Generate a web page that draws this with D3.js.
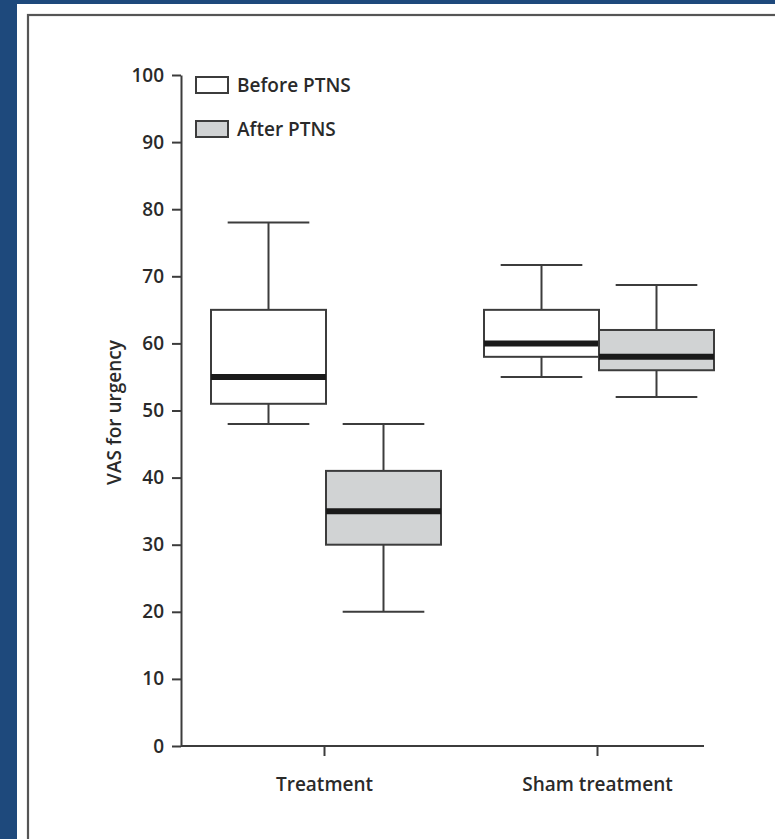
<!DOCTYPE html>
<html>
<head>
<meta charset="utf-8">
<script src="https://cdn.jsdelivr.net/npm/d3@7"></script>
<style>
  html, body { margin: 0; padding: 0; background: #1e497c; }
  svg { display: block; }
</style>
</head>
<body>
<svg id="chart" width="775" height="839"></svg>
<script>
// box order: Treatment/Before, Treatment/After, Sham/Before, Sham/After
const categories = ["Treatment", "Sham treatment"];
const series = ["Before PTNS", "After PTNS"];
const boxCategory = ["Treatment", "Treatment", "Sham treatment", "Sham treatment"];
const boxSeries = ["Before PTNS", "After PTNS", "Before PTNS", "After PTNS"];
const lowWhisker = [48, 20, 55, 52];
const q1 = [51, 30, 58, 56];
const median = [55, 35, 60, 58];
const q3 = [65, 41, 65, 62];
const highWhisker = [78, 48, 71.7, 68.7];
const yTicks = [0, 10, 20, 30, 40, 50, 60, 70, 80, 90, 100];

const font = "'Open Sans', sans-serif";
const ink = "#3c3c3c";
const textInk = "#2a2a2a";
const fills = { "Before PTNS": "#ffffff", "After PTNS": "#d1d3d4" };

const svg = d3.select("#chart");

// white panel with grey frame
svg.append("rect").attr("x", 17).attr("y", 4).attr("width", 775).attr("height", 839).attr("fill", "#fff");
svg.append("rect").attr("x", 28).attr("y", 15).attr("width", 780).attr("height", 850)
  .attr("fill", "none").attr("stroke", "#555").attr("stroke-width", 2.2);

const y = d3.scaleLinear().domain([0, 100]).range([746, 75]);
const x = d3.scalePoint().domain(categories).range([324, 597]);
const inner = d3.scaleBand().domain(series).range([-113, 117]);
const boxW = inner.bandwidth();
const capW = boxW * 0.71;

const axisX0 = 181, axisX1 = 704;

const styleText = sel => sel.attr("font-family", font).attr("font-size", 19)
  .attr("font-weight", 600).attr("fill", textInk);

// y axis
const yAxis = svg.append("g")
  .attr("transform", `translate(${axisX0},0)`)
  .call(d3.axisLeft(y).tickValues(yTicks).tickSize(9).tickSizeOuter(0).tickPadding(8));
yAxis.selectAll("path, line").attr("stroke", ink).attr("stroke-width", 2);
yAxis.selectAll("text").call(styleText);

// x axis
svg.append("line")
  .attr("x1", axisX0).attr("x2", axisX1).attr("y1", y(0)).attr("y2", y(0))
  .attr("stroke", ink).attr("stroke-width", 2);
const xAxis = svg.append("g")
  .attr("transform", `translate(0,${y(0)})`)
  .call(d3.axisBottom(x).tickSize(10).tickPadding(22));
xAxis.select(".domain").remove();
xAxis.selectAll("line").attr("stroke", ink).attr("stroke-width", 2);
xAxis.selectAll("text").call(styleText);

// axis title
svg.append("text")
  .attr("transform", `translate(121,${(y(0) + y(100)) / 2 + 2}) rotate(-90)`)
  .attr("text-anchor", "middle")
  .call(styleText)
  .text("VAS for urgency");

// boxes
const boxes = svg.append("g").selectAll("g")
  .data(boxCategory.map((c, i) => i))
  .join("g")
  .attr("transform", i => `translate(${x(boxCategory[i]) + inner(boxSeries[i])},0)`);

const stroke = (sel, w) => sel.attr("stroke", ink).attr("stroke-width", w);

boxes.append("line").attr("x1", boxW / 2).attr("x2", boxW / 2)
  .attr("y1", i => y(highWhisker[i])).attr("y2", i => y(q3[i])).call(stroke, 2);
boxes.append("line").attr("x1", boxW / 2).attr("x2", boxW / 2)
  .attr("y1", i => y(q1[i])).attr("y2", i => y(lowWhisker[i])).call(stroke, 2);
boxes.append("line").attr("x1", (boxW - capW) / 2).attr("x2", (boxW + capW) / 2)
  .attr("y1", i => y(highWhisker[i])).attr("y2", i => y(highWhisker[i])).call(stroke, 2);
boxes.append("line").attr("x1", (boxW - capW) / 2).attr("x2", (boxW + capW) / 2)
  .attr("y1", i => y(lowWhisker[i])).attr("y2", i => y(lowWhisker[i])).call(stroke, 2);
boxes.append("rect")
  .attr("x", 0).attr("width", boxW)
  .attr("y", i => y(q3[i])).attr("height", i => y(q1[i]) - y(q3[i]))
  .attr("fill", i => fills[boxSeries[i]]).call(stroke, 2);
boxes.append("line").attr("x1", 0).attr("x2", boxW)
  .attr("y1", i => y(median[i])).attr("y2", i => y(median[i]))
  .attr("stroke", "#1a1a1a").attr("stroke-width", 6);

// legend
const legend = svg.append("g").selectAll("g")
  .data(series)
  .join("g")
  .attr("transform", (d, i) => `translate(196,${77 + i * 44})`);
legend.append("rect").attr("width", 32).attr("height", 16)
  .attr("fill", d => fills[d]).call(stroke, 2);
legend.append("text").attr("x", 41).attr("y", 15)
  .call(styleText)
  .text(d => d);
</script>
</body>
</html>
